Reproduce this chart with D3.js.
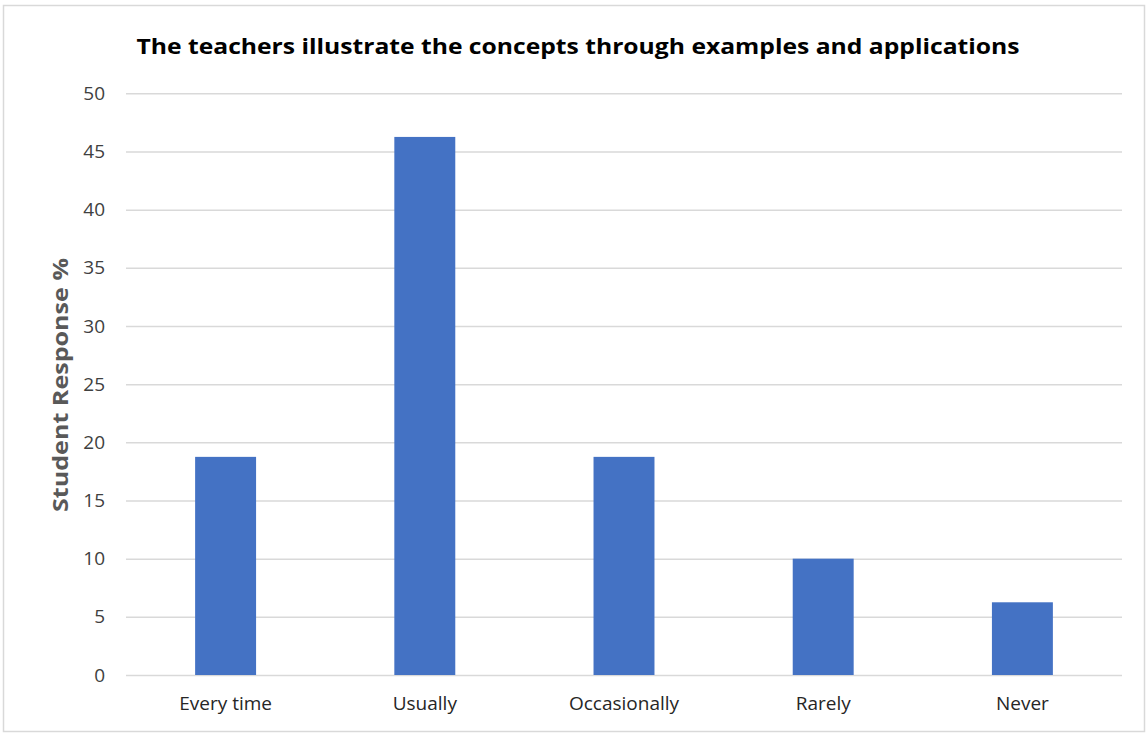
<!DOCTYPE html>
<html><head><meta charset="utf-8">
<script src="https://cdn.jsdelivr.net/npm/d3@7"></script>
<style>body{margin:0;background:#fff}svg{display:block}</style>
</head><body>
<script>
const categories = ["Every time","Usually","Occasionally","Rarely","Never"];
const values = [18.75, 46.25, 18.75, 10, 6.25];
const yTicks = [0,5,10,15,20,25,30,35,40,45,50];
const title = "The teachers illustrate the concepts through examples and applications";
const yLabel = "Student Response %";

const W = 1148, H = 734;
const m = {left:126, right:26, top:93.3, bottom:59};
const svg = d3.select("body").append("svg").attr("width",W).attr("height",H);
svg.append("rect").attr("x",3.5).attr("y",5.5).attr("width",1141).attr("height",726)
  .attr("fill","#fff").attr("stroke","#d9d9d9").attr("stroke-width",1.5);

const x = d3.scaleBand().domain(categories).range([m.left, W-m.right]).paddingInner(0.694).paddingOuter(0.347);
const y = d3.scaleLinear().domain([0,50]).range([H-m.bottom, m.top]);

const grid = svg.append("g").attr("transform",`translate(${m.left},0)`)
  .call(d3.axisLeft(y).tickValues(yTicks).tickSize(-(W-m.left-m.right)).tickFormat(""));
grid.select(".domain").remove();
grid.selectAll("line").attr("stroke","#d9d9d9").attr("stroke-width",1.5);

const ya = svg.append("g").attr("transform",`translate(${m.left-21},0)`)
  .call(d3.axisLeft(y).tickValues(yTicks).tickSize(0).tickPadding(0));
ya.select(".domain").remove();
ya.selectAll("text").attr("font-family","'Open Sans', sans-serif").attr("font-size",19).attr("fill","#404040");

svg.append("g").selectAll("rect").data(values).join("rect")
  .attr("x",(d,i)=>x(categories[i])).attr("width",x.bandwidth())
  .attr("y",d=>y(d)).attr("height",d=>y(0)-y(d)).attr("fill","#4472c4");

const xa = svg.append("g").attr("transform",`translate(0,${H-m.bottom})`)
  .call(d3.axisBottom(x).tickSize(0).tickPadding(22));
xa.select(".domain").remove();
xa.selectAll("text").attr("font-family","'Open Sans', sans-serif").attr("font-size",19).attr("fill","#262626");

svg.append("text").attr("x",578).attr("y",54).attr("text-anchor","middle")
  .attr("font-family","'Open Sans', sans-serif").attr("font-weight","bold").attr("font-size",22)
  .attr("fill","#000").attr("textLength",883).attr("lengthAdjust","spacingAndGlyphs").text(title);

svg.append("text").attr("transform","translate(68,385) rotate(-90)").attr("text-anchor","middle")
  .attr("font-family","'Open Sans', sans-serif").attr("font-weight","bold").attr("font-size",22)
  .attr("fill","#595959").attr("textLength",254).attr("lengthAdjust","spacingAndGlyphs").text(yLabel);
</script>
</body></html>
